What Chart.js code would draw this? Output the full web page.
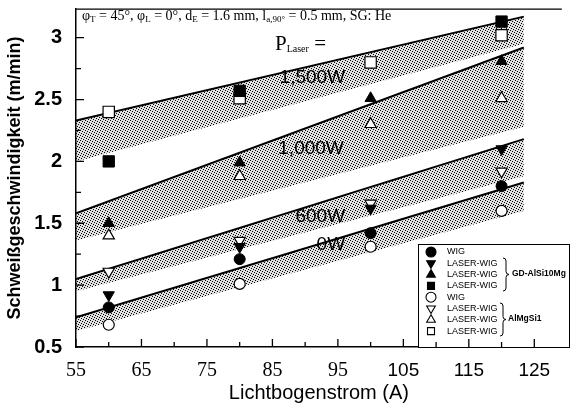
<!DOCTYPE html>
<html>
<head>
<meta charset="utf-8">
<script src="https://cdn.jsdelivr.net/npm/chart.js@4.4.0/dist/chart.umd.min.js"></script>
<style>
    html, body { margin: 0; padding: 0; background: #fff; }
</style>
</head>
<body>
<canvas id="chart" width="571" height="403"></canvas>
<script>
/* ------------------------------- Data -------------------------------*/

var current = [60, 80, 100, 120];                       // Lichtbogenstrom (A)

var wigGD       = [0.82, 1.21, 1.42, 1.80];             // GD-AlSi10Mg
var laser600GD  = [0.92, 1.31, 1.62, 2.10];
var laser1000GD = [1.50, 1.99, 2.51, 2.81];
var laser1500GD = [2.00, 2.57, null, 3.13];
var wigAl       = [0.68, 1.01, 1.31, 1.60];             // AlMgSi1
var laser600Al  = [1.11, 1.36, 1.66, 1.92];
var laser1000Al = [1.40, 1.88, 2.30, 2.51];
var laser1500Al = [2.40, 2.51, 2.80, 3.02];

var bandX       = [55, 123.4];                          // Streubänder, Anfang und Ende
var band0Low    = [0.63, 1.60], band0High    = [0.74, 1.83];
var band600Low  = [0.95, 1.88], band600High  = [1.05, 2.18];
var band1000Low = [1.36, 2.28], band1000High = [1.58, 2.92];
var band1500Low = [2.00, 2.95], band1500High = [2.33, 3.17];
var bandLabels  = ["0W", "600W", "1,000W", "1,500W"];

var xTicks = [55, 65, 75, 85, 95, 105, 115, 125];
var yTicks = [0.5, 1, 1.5, 2, 2.5, 3];
var groupNames = ["GD-AlSi10Mg", "AlMgSi1"];

/* ------------------------------- Helpers -------------------------------*/

function stipple() {                                    // Punktmuster für die Bänder
    var c = document.createElement("canvas");
    c.width = 5; c.height = 5;
    var g = c.getContext("2d");
    g.fillStyle = "rgba(0,0,0,0.12)";
    g.fillRect(0, 0, 5, 5);
    g.fillStyle = "#000";
    [[0, 0], [2, 1], [4, 2], [1, 3], [3, 4]].forEach(function (p) { g.fillRect(p[0], p[1], 1, 1); });
    return g.createPattern(c, "repeat");
}

function markerSet(label, values, style, rotation, filled, radius) {
    return {
        type: "scatter",
        label: label,
        data: current.map(function (x, i) { return { x: x, y: values[i] }; }),
        pointStyle: style,
        rotation: rotation,
        pointRadius: radius,
        backgroundColor: filled ? "#000" : "#fff",
        borderColor: "#000",
        borderWidth: filled ? 1 : 1.2,
        order: 0
    };
}

function bandSet(values, isTop, pattern) {
    return {
        type: "line",
        data: bandX.map(function (x, i) { return { x: x, y: values[i] }; }),
        borderColor: "#000",
        borderWidth: isTop ? 2 : 0,
        pointRadius: 0,
        fill: isTop ? "-1" : false,
        backgroundColor: pattern,
        order: 5
    };
}

function drawMarker(ctx, style, filled, x, y, r) {
    ctx.beginPath();
    if (style == "circle") ctx.arc(x, y, r, 0, 2 * Math.PI);
    else if (style == "up") {
        ctx.moveTo(x, y - r); ctx.lineTo(x + r * 0.87, y + r / 2); ctx.lineTo(x - r * 0.87, y + r / 2); ctx.closePath();
    } else if (style == "down") {
        ctx.moveTo(x, y + r); ctx.lineTo(x + r * 0.87, y - r / 2); ctx.lineTo(x - r * 0.87, y - r / 2); ctx.closePath();
    } else ctx.rect(x - r * 0.7, y - r * 0.7, r * 1.4, r * 1.4);
    ctx.fillStyle = filled ? "#000" : "#fff";
    ctx.fill();
    ctx.stroke();
}

function drawParts(ctx, parts, x, y, size, subSize) {   // Text mit Indizes
    parts.forEach(function (p) {
        ctx.font = (p[1] ? subSize : size) + "px 'Liberation Serif'";
        ctx.fillText(p[0], x, p[1] ? y + 2 : y);
        x += ctx.measureText(p[0]).width;
    });
}

function brace(ctx, x, y0, y1) {
    var m = (y0 + y1) / 2;
    ctx.beginPath();
    ctx.moveTo(x, y0);
    ctx.quadraticCurveTo(x + 3, y0, x + 3, y0 + 3);
    ctx.lineTo(x + 3, m - 3);
    ctx.quadraticCurveTo(x + 3, m, x + 6, m);
    ctx.quadraticCurveTo(x + 3, m, x + 3, m + 3);
    ctx.lineTo(x + 3, y1 - 3);
    ctx.quadraticCurveTo(x + 3, y1, x, y1);
    ctx.stroke();
}

/* ------------------------------- Decorations -------------------------------*/

var legendStyles = [["circle", 1], ["down", 1], ["up", 1], ["rect", 1], ["circle", 0], ["down", 0], ["up", 0], ["rect", 0]];

var decor = {
    id: "decor",
    afterDraw: function (chart) {
        var ctx = chart.ctx, area = chart.chartArea;
        var xs = chart.scales.x, ys = chart.scales.y;
        ctx.save();
        ctx.fillStyle = "#000";
        ctx.textBaseline = "alphabetic";

        // Kopfzeile
        drawParts(ctx, [["φ"], ["T", 1], [" = 45°, φ"], ["L", 1], [" = 0°, d"], ["E", 1], [" = 1.6 mm, l"],
            ["a,90°", 1], [" = 0.5 mm, SG: He"]], area.left + 6, area.top + 11, 14, 9);
        drawParts(ctx, [["P"], ["Laser", 1], [" ="]], 275, 50, 21, 10);

        // Bandbeschriftung
        ctx.font = "19px 'Liberation Sans'";
        ctx.textAlign = "right";
        var spots = [[96.1, 1.28], [96.1, 1.51], [95.9, 2.06], [96.1, 2.63]];
        bandLabels.forEach(function (t, i) {
            ctx.fillText(t, xs.getPixelForValue(spots[i][0]), ys.getPixelForValue(spots[i][1]));
        });
        ctx.textAlign = "left";

        // Legende
        var bx = 418, by = 244;
        ctx.fillStyle = "#fff";
        ctx.fillRect(bx, by, 151, area.bottom - by);
        ctx.strokeStyle = "#000";
        ctx.lineWidth = 1;
        ctx.strokeRect(bx + 0.5, by + 0.5, 151, area.bottom - by);
        ctx.font = "9px 'Liberation Sans'";
        ctx.textBaseline = "middle";
        for (var i = 0; i < 8; i++) {
            var ry = by + 8 + i * 11.3;
            ctx.lineWidth = 1.1;
            drawMarker(ctx, legendStyles[i][0], legendStyles[i][1], 431, ry, 5);
            ctx.fillStyle = "#000";
            ctx.fillText(chart.data.datasets[i].label, 447, ry);
        }
        ctx.lineWidth = 1;
        brace(ctx, 503, by + 14, by + 47);
        brace(ctx, 500, by + 59, by + 92);
        ctx.font = "bold 8.5px 'Liberation Sans'";
        ctx.fillText(groupNames[0], 512, by + 30);
        ctx.fillText(groupNames[1], 508, by + 75);

        // Teilstriche nach innen und obere Rahmenlinie
        ctx.strokeStyle = "#000";
        ctx.lineWidth = 1.3;
        ctx.beginPath();
        xs.ticks.forEach(function (t) {
            var px = xs.getPixelForValue(t.value);
            var len = xTicks.indexOf(t.value) >= 0 ? 8 : 5;
            ctx.moveTo(px, area.bottom); ctx.lineTo(px, area.bottom - len);
        });
        ys.ticks.forEach(function (t) {
            var py = ys.getPixelForValue(t.value);
            var len = yTicks.indexOf(t.value) >= 0 ? 8 : 5;
            ctx.moveTo(area.left, py); ctx.lineTo(area.left + len, py);
        });
        ctx.moveTo(area.left, area.top); ctx.lineTo(area.right, area.top);
        ctx.stroke();
        ctx.restore();
    }
};

/* ------------------------------- Chart -------------------------------*/

var ctx = document.getElementById("chart").getContext("2d");
var pattern = stipple();

Chart.defaults.font.family = "'Liberation Sans'";
Chart.defaults.color = "#000";

new Chart(ctx, {
    type: "scatter",
    data: {
        datasets: [
            markerSet("WIG", wigGD, "circle", 0, true, 5.5),
            markerSet("LASER-WIG", laser600GD, "triangle", 180, true, 6.5),
            markerSet("LASER-WIG", laser1000GD, "triangle", 0, true, 6.5),
            markerSet("LASER-WIG", laser1500GD, "rect", 0, true, 8),
            markerSet("WIG", wigAl, "circle", 0, false, 5.5),
            markerSet("LASER-WIG", laser600Al, "triangle", 180, false, 6.5),
            markerSet("LASER-WIG", laser1000Al, "triangle", 0, false, 6.5),
            markerSet("LASER-WIG", laser1500Al, "rect", 0, false, 8),
            bandSet(band0Low, false, pattern), bandSet(band0High, true, pattern),
            bandSet(band600Low, false, pattern), bandSet(band600High, true, pattern),
            bandSet(band1000Low, false, pattern), bandSet(band1000High, true, pattern),
            bandSet(band1500Low, false, pattern), bandSet(band1500High, true, pattern)
        ]
    },
    options: {
        responsive: false,
        animation: false,
        layout: { padding: { top: 8, right: 0, left: 0, bottom: 0 } },
        plugins: { legend: { display: false }, tooltip: { enabled: false } },
        scales: {
            x: {
                type: "linear",
                min: 55,
                max: 129.2,
                grid: { drawOnChartArea: false, drawTicks: false },
                border: { color: "#000", width: 1.5 },
                ticks: {
                    stepSize: 5,
                    includeBounds: false,
                    autoSkip: false,
                    maxRotation: 0,
                    padding: 12,
                    color: "#000",
                    font: function (c) {
                        if (c.tick && c.tick.value >= 100) return { family: "'Liberation Sans'", size: 19 };
                        return { family: "'Liberation Serif'", size: 20 };
                    },
                    callback: function (v) { return xTicks.indexOf(v) >= 0 ? String(v) : ""; }
                },
                title: {
                    display: true,
                    text: "Lichtbogenstrom (A)",
                    color: "#000",
                    padding: 0,
                    font: { size: 20, lineHeight: 1 }
                },
                afterFit: function (s) { s.height = 56; s.paddingLeft = 0; s.paddingRight = 0; }
            },
            y: {
                min: 0.5,
                max: 3.23,
                grid: { drawOnChartArea: false, drawTicks: false },
                border: { color: "#000", width: 1.5 },
                ticks: {
                    stepSize: 0.25,
                    includeBounds: false,
                    autoSkip: false,
                    padding: 14,
                    color: "#000",
                    font: { size: 20, weight: "bold" },
                    callback: function (v) { return yTicks.indexOf(v) >= 0 ? String(v) : ""; }
                },
                title: {
                    display: true,
                    text: "Schweißgeschwindigkeit (m/min)",
                    color: "#000",
                    padding: { top: 4, bottom: 0 },
                    font: { size: 18, weight: "bold", lineHeight: 1.2 }
                },
                afterFit: function (s) { s.width = 76; s.paddingTop = 0; s.paddingBottom = 0; }
            }
        }
    },
    plugins: [decor]
});
</script>
</body>
</html>
